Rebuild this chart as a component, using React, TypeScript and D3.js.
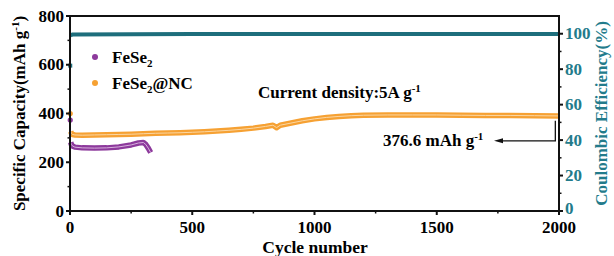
import React from 'react';
import * as d3 from 'd3';

// FeSe2@NC capacity (mAh g-1)
const ncCycles = [3, 6, 10, 20, 50, 100, 150, 200, 250, 300, 350, 400, 450, 500, 550, 600, 650, 700, 750, 800, 830, 845, 860, 900, 950, 1000, 1050, 1100, 1150, 1200, 1300, 1400, 1500, 1600, 1700, 1800, 1900, 2000];
const ncValues = [326, 318, 314, 312, 311, 312, 313, 314, 315, 317, 319, 320, 321, 323, 325, 328, 331, 335, 340, 347, 352, 342, 352, 360, 370, 378, 384, 388, 391, 393, 394, 394, 394, 393, 392, 392, 391, 390];
const ncFirst = { cycle: 1, value: 400 };

// FeSe2 capacity
const feCycles = [3, 5, 10, 20, 50, 100, 150, 200, 250, 280, 300, 310, 320, 330];
const feValues = [282, 274, 267, 262, 259, 258, 259, 263, 271, 279, 281, 273, 258, 240];
const feFirst = { cycle: 1, value: 373 };

// Coulombic efficiency (%)
const ceCycles = [2, 10, 500, 1000, 1500, 2000];
const ceValues = [99, 99.6, 99.8, 99.8, 99.8, 99.8];
const ceFirst = { cycle: 1, value: 82 };

const xTicks = [0, 500, 1000, 1500, 2000];
const yTicks = [0, 200, 400, 600, 800];
const y2Ticks = [0, 20, 40, 60, 80, 100];

const TEAL = '#1d6e7c';
const TEAL_TEXT = '#237b8b';
const PURPLE = '#8d3a9c';
const ORANGE = '#f6a133';
const FONT = '"Liberation Serif", "Times New Roman", serif';
const FS = 17;
const SUP = 11;

export default function App() {
  const width = 614;
  const height = 256;
  const m = { left: 70, right: 559, top: 16, bottom: 211 };

  const x = d3.scaleLinear().domain([0, 2000]).range([m.left, m.right]);
  const y = d3.scaleLinear().domain([0, 800]).range([m.bottom, m.top]);
  const y2 = d3.scaleLinear().domain([0, 110]).range([m.bottom, m.top]);

  const line = d3.line<[number, number]>().x(d => x(d[0])).y(d => y(d[1]));
  const line2 = d3.line<[number, number]>().x(d => x(d[0])).y(d => y2(d[1]));

  const ncPath = line(ncCycles.map((c, i) => [c, ncValues[i]]) as [number, number][]) || '';
  const fePath = line(feCycles.map((c, i) => [c, feValues[i]]) as [number, number][]) || '';
  const cePath = line2(ceCycles.map((c, i) => [c, ceValues[i]]) as [number, number][]) || '';

  const xMinor = d3.range(250, 2000, 500);
  const yMinor = d3.range(100, 800, 200);
  const y2Minor = d3.range(10, 110, 20);

  const bold = { fontFamily: FONT, fontWeight: 'bold' as const };

  return (
    <svg width={width} height={height} style={{ position: 'absolute', left: 0, top: 0, background: '#fff' }}>
      {/* CE */}
      <path d={cePath} fill="none" stroke={TEAL} strokeWidth={4} />
      <rect x={x(ceFirst.cycle) - 2} y={y2(ceFirst.value) - 2} width={4} height={4} fill={TEAL} />

      {/* FeSe2 */}
      <path d={fePath} fill="none" stroke={PURPLE} strokeWidth={5.5} strokeLinejoin="round" />
      <path d={fePath} fill="none" stroke="#d8b0de" strokeWidth={1} />
      <circle cx={x(feFirst.cycle)} cy={y(feFirst.value)} r={2.6} fill={PURPLE} />

      {/* FeSe2@NC */}
      <path d={ncPath} fill="none" stroke={ORANGE} strokeWidth={5.5} strokeLinejoin="round" />
      <path d={ncPath} fill="none" stroke="#fbd7a4" strokeWidth={1} />
      <circle cx={x(ncFirst.cycle)} cy={y(ncFirst.value)} r={2.6} fill={ORANGE} />

      {/* frame */}
      <rect x={m.left} y={m.top} width={m.right - m.left} height={m.bottom - m.top} fill="none" stroke="#111" strokeWidth={2} />

      {/* x axis ticks */}
      {xTicks.map(t => (
        <g key={'x' + t}>
          <line x1={x(t)} x2={x(t)} y1={m.bottom} y2={m.bottom + 4} stroke="#111" strokeWidth={2} />
          <text x={x(t)} y={233} textAnchor="middle" fontSize={FS} {...bold}>{t}</text>
        </g>
      ))}
      {xMinor.map(t => (
        <line key={'xm' + t} x1={x(t)} x2={x(t)} y1={m.bottom} y2={m.bottom + 2.5} stroke="#111" strokeWidth={1.5} />
      ))}

      {/* left axis */}
      {yTicks.map(t => (
        <g key={'y' + t}>
          <line x1={m.left - 4} x2={m.left} y1={y(t)} y2={y(t)} stroke="#111" strokeWidth={2} />
          <text x={m.left - 6} y={y(t) + 5.5} textAnchor="end" fontSize={FS} {...bold}>{t}</text>
        </g>
      ))}
      {yMinor.map(t => (
        <line key={'ym' + t} x1={m.left - 2.5} x2={m.left} y1={y(t)} y2={y(t)} stroke="#111" strokeWidth={1.5} />
      ))}

      {/* right axis */}
      {y2Ticks.map(t => (
        <g key={'y2' + t}>
          <line x1={m.right} x2={m.right + 4} y1={y2(t)} y2={y2(t)} stroke="#111" strokeWidth={2} />
          <text x={m.right + 6} y={y2(t) + (t === 0 ? 3 : 5.5)} textAnchor="start" fontSize={FS} fill={TEAL_TEXT} {...bold}>{t}</text>
        </g>
      ))}
      {y2Minor.map(t => (
        <line key={'y2m' + t} x1={m.right} x2={m.right + 2.5} y1={y2(t)} y2={y2(t)} stroke="#111" strokeWidth={1.5} />
      ))}

      {/* axis titles */}
      <text x={315} y={253} textAnchor="middle" fontSize={FS + 0.5} {...bold}>Cycle number</text>
      <text transform={`translate(25, ${(m.top + m.bottom) / 2}) rotate(-90)`} textAnchor="middle" fontSize={FS} {...bold}>
        Specific Capacity(mAh g<tspan dy={-6} fontSize={SUP}>-1</tspan><tspan dy={6}>)</tspan>
      </text>
      <text transform={`translate(607, ${(m.top + m.bottom) / 2}) rotate(-90)`} textAnchor="middle" fontSize={FS} fill={TEAL_TEXT} {...bold}>
        Coulombic Efficiency(%)
      </text>

      {/* legend */}
      <circle cx={95} cy={57} r={3} fill={PURPLE} />
      <text x={112} y={63} fontSize={FS} {...bold}>FeSe<tspan dy={4} fontSize={SUP}>2</tspan></text>
      <circle cx={95} cy={83} r={3} fill={ORANGE} />
      <text x={112} y={89} fontSize={FS} {...bold}>FeSe<tspan dy={4} fontSize={SUP}>2</tspan><tspan dy={-4}>@NC</tspan></text>

      {/* annotations */}
      <text x={258} y={98} fontSize={FS} {...bold}>Current density:5A g<tspan dy={-6} fontSize={SUP}>-1</tspan></text>
      <text x={383} y={146} fontSize={FS} {...bold}>376.6 mAh g<tspan dy={-6} fontSize={SUP}>-1</tspan></text>
      <polyline points={`${x(1985)},${y(370)} ${x(1985)},${y(288)} 500,${y(288)}`} fill="none" stroke="#111" strokeWidth={1.3} />
      <path d={`M494,${y(288)} L503,${y(288) - 2.5} L503,${y(288) + 2.5} Z`} fill="#111" />
    </svg>
  );
}
